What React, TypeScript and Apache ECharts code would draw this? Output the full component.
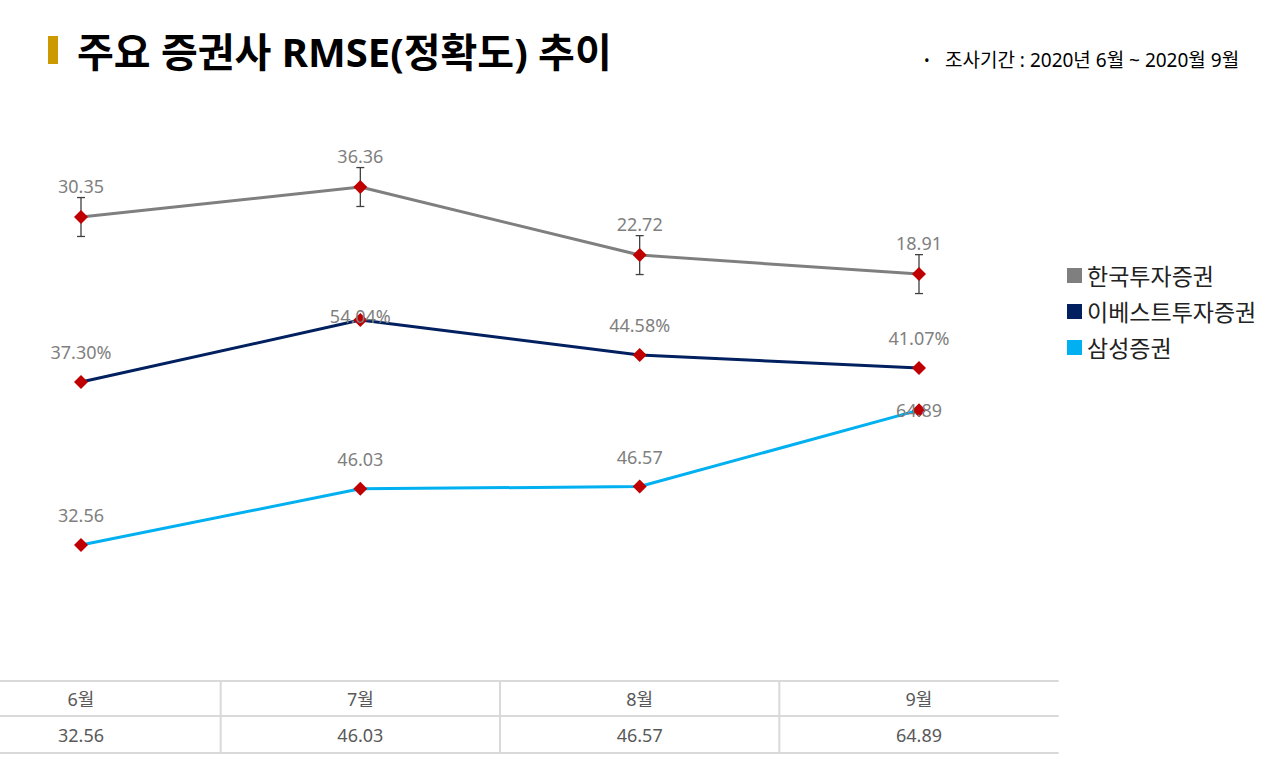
import React, { useEffect, useRef } from "react";
import * as echarts from "echarts";

const months = ["6월", "7월", "8월", "9월"];
const seriesNames = ["한국투자증권", "이베스트투자증권", "삼성증권"];
const koreaInv = [30.35, 36.36, 22.72, 18.91];
const koreaInvErr = [3.9, 3.9, 3.9, 3.9];
const ebest = [37.3, 54.04, 44.58, 41.07];
const samsung = [32.56, 46.03, 46.57, 64.89];
const tableValues = [32.56, 46.03, 46.57, 64.89];
const lineColors = ["#7F7F7F", "#002060", "#00B0F0"];

const FONT = "'Noto Sans', 'Noto Sans CJK KR', sans-serif";
const MARKER = "#C00000";
const LABEL_COLOR = "#7F7F7F";

export default function App() {
  const ref = useRef<HTMLDivElement>(null);
  useEffect(() => {
    if (!ref.current) return;
    const chart = echarts.init(ref.current, undefined, { renderer: "svg" });
    const labelBase = { show: true, color: LABEL_COLOR, fontSize: 18, fontFamily: FONT };
    const option: any = {
      animation: false,
      backgroundColor: "#ffffff",
      grid: { left: 81, right: 361, top: 100, bottom: 100 },
      xAxis: { type: "category", data: months, boundaryGap: false, show: false },
      yAxis: [
        { type: "value", min: -58.43, max: 53.8, show: false },
        { type: "value", min: -37.8, max: 113.5, show: false },
        { type: "value", min: 4.98, max: 139.27, show: false },
      ],
      legend: {
        orient: "vertical",
        left: 1062,
        top: 259,
        icon: "rect",
        itemWidth: 15,
        itemHeight: 15,
        itemGap: 13,
        textStyle: { fontSize: 23, color: "#222", fontFamily: FONT },
        data: seriesNames.map((n, i) => ({ name: n, itemStyle: { color: lineColors[i] } })),
      },
      series: [
        {
          type: "custom",
          name: "err",
          yAxisIndex: 0,
          z: 1,
          silent: true,
          data: koreaInv.map((v, i) => [i, v - koreaInvErr[i], v + koreaInvErr[i]]),
          renderItem: (params: any, api: any) => {
            const lo = api.coord([api.value(0), api.value(1)]);
            const hi = api.coord([api.value(0), api.value(2)]);
            const style = { stroke: "#404040", lineWidth: 1.3 };
            return {
              type: "group",
              children: [
                { type: "line", shape: { x1: lo[0], y1: lo[1], x2: hi[0], y2: hi[1] }, style },
                { type: "line", shape: { x1: lo[0] - 4, y1: lo[1], x2: lo[0] + 4, y2: lo[1] }, style },
                { type: "line", shape: { x1: hi[0] - 4, y1: hi[1], x2: hi[0] + 4, y2: hi[1] }, style },
              ],
            };
          },
        },
        {
          type: "line",
          name: seriesNames[0],
          yAxisIndex: 0,
          z: 3,
          data: koreaInv,
          symbol: "diamond",
          symbolSize: 14,
          lineStyle: { color: lineColors[0], width: 3 },
          itemStyle: { color: MARKER },
          label: { ...labelBase, position: "top", distance: 15, formatter: (p: any) => p.value.toFixed(2) },
        },
        {
          type: "line",
          name: seriesNames[1],
          yAxisIndex: 1,
          z: 3,
          data: ebest.map((v, i) =>
            i === 1 ? { value: v, label: { position: "inside", offset: [0, -4] } } : v
          ),
          symbol: "diamond",
          symbolSize: 14,
          lineStyle: { color: lineColors[1], width: 3 },
          itemStyle: { color: MARKER },
          label: { ...labelBase, position: "top", distance: 14, formatter: (p: any) => p.value.toFixed(2) + "%" },
        },
        {
          type: "line",
          name: seriesNames[2],
          yAxisIndex: 2,
          z: 3,
          data: samsung.map((v, i) =>
            i === 3 ? { value: v, label: { position: "inside", offset: [0, 0] } } : v
          ),
          symbol: "diamond",
          symbolSize: 14,
          lineStyle: { color: lineColors[2], width: 3 },
          itemStyle: { color: MARKER },
          label: { ...labelBase, position: "top", distance: 14, formatter: (p: any) => p.value.toFixed(2) },
        },
      ],
    };
    chart.setOption(option);

    // Table and headings
    const xs = months.map((m) => chart.convertToPixel({ xAxisIndex: 0 }, m) as number);
    const step = xs[1] - xs[0];
    const tableTop = 681;
    const rowMid = 716;
    const tableBottom = 753;
    const tableRight = xs[xs.length - 1] + step / 2;
    const lineStyle = { stroke: "#D9D9D9", lineWidth: 2 };
    const graphics: any[] = [
      { type: "rect", shape: { x: 48, y: 36, width: 10, height: 28 }, style: { fill: "#CC9900" } },
      {
        type: "text",
        x: 77,
        y: 51,
        style: {
          text: "주요 증권사 RMSE(정확도) 추이",
          fontSize: 40,
          fontWeight: "bold",
          fontFamily: FONT,
          fill: "#000",
          verticalAlign: "middle",
        },
      },
      {
        type: "text",
        x: 924,
        y: 60,
        style: { text: "•", fontSize: 15, fontFamily: FONT, fill: "#000", verticalAlign: "middle" },
      },
      {
        type: "text",
        x: 945,
        y: 60,
        style: {
          text: "조사기간 : 2020년 6월 ~ 2020월 9월",
          fontSize: 19,
          fontFamily: FONT,
          fill: "#000",
          verticalAlign: "middle",
        },
      },
      { type: "line", shape: { x1: 0, y1: tableTop, x2: tableRight, y2: tableTop }, style: lineStyle },
      { type: "line", shape: { x1: 0, y1: rowMid, x2: tableRight, y2: rowMid }, style: lineStyle },
      { type: "line", shape: { x1: 0, y1: tableBottom, x2: tableRight, y2: tableBottom }, style: lineStyle },
    ];
    xs.forEach((x, i) => {
      if (i > 0) {
        const bx = x - step / 2;
        graphics.push({ type: "line", shape: { x1: bx, y1: tableTop, x2: bx, y2: tableBottom }, style: lineStyle });
      }
      graphics.push({
        type: "text",
        x,
        y: (tableTop + rowMid) / 2,
        style: { text: months[i], fontSize: 18, fontFamily: FONT, fill: "#595959", align: "center", verticalAlign: "middle" },
      });
      graphics.push({
        type: "text",
        x,
        y: (rowMid + tableBottom) / 2,
        style: {
          text: tableValues[i].toFixed(2),
          fontSize: 18,
          fontFamily: FONT,
          fill: "#595959",
          align: "center",
          verticalAlign: "middle",
        },
      });
    });
    chart.setOption({ graphic: graphics });

    return () => chart.dispose();
  }, []);
  return <div ref={ref} style={{ position: "fixed", left: 0, top: 0, width: 1280, height: 760 }} />;
}
